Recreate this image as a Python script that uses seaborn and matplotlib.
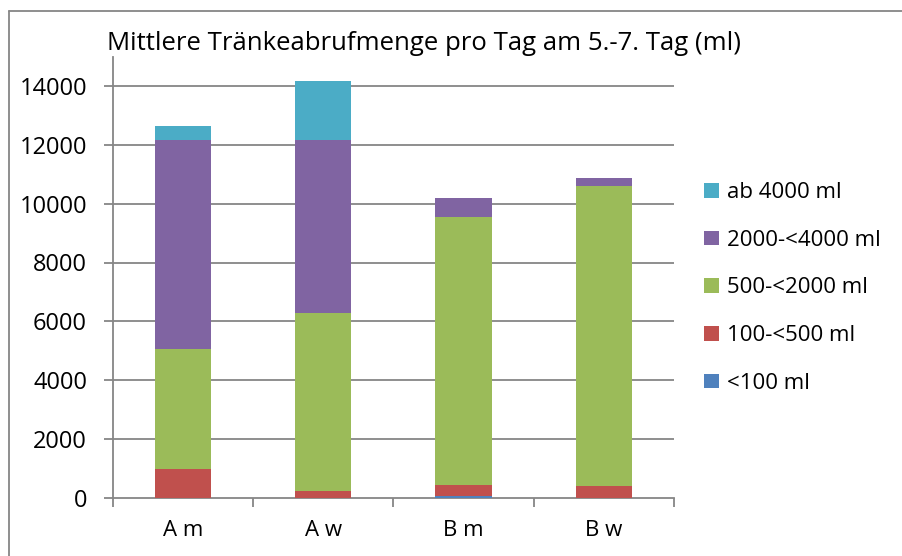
import numpy as np
import pandas as pd
import matplotlib
matplotlib.use("Agg")
import matplotlib.pyplot as plt
from matplotlib.patches import Patch
from matplotlib.lines import Line2D
import seaborn as sns

# data
groups = ["A m", "A w", "B m", "B w"]
series_names = ["<100 ml", "100-<500 ml", "500-<2000 ml", "2000-<4000 ml", "ab 4000 ml"]
lt_100 = [0, 0, 50, 0]
ml_100_500 = [965, 238, 382, 408]
ml_500_2000 = [4090, 6040, 9105, 10200]
ml_2000_4000 = [7125, 5880, 666, 260]
ab_4000 = [475, 2000, 0, 0]
colors = ["#4F81BD", "#C0504D", "#9BBB59", "#8064A2", "#4BACC6"]

df = pd.DataFrame({
    "group": groups,
    series_names[0]: lt_100,
    series_names[1]: ml_100_500,
    series_names[2]: ml_500_2000,
    series_names[3]: ml_2000_4000,
    series_names[4]: ab_4000,
})

sns.set_style("white")
plt.rcParams["font.family"] = ["Open Sans", "DejaVu Sans"]
plt.rcParams["text.color"] = "black"
plt.rcParams["xtick.color"] = "black"
plt.rcParams["ytick.color"] = "black"
grid_col = "#868686"

fig = plt.figure(figsize=(9.03, 5.56), dpi=100)
ax = fig.add_axes([112.7 / 903, 1 - 497.7 / 556, (674 - 112.7) / 903, (497.7 - 56.7) / 556])

# stacked bars, one barplot call per series
bottom = np.zeros(len(groups))
for name, col in zip(series_names, colors):
    sns.barplot(data=df, x="group", y=name, color=col, saturation=1, width=0.4,
                bottom=bottom, ax=ax, linewidth=0, zorder=3)
    bottom = bottom + df[name].values

ax.set_xlim(-0.5, 3.5)
ax.set_ylim(0, 15000)
ax.set_yticks(np.arange(0, 14001, 2000))
ax.set_xlabel("")
ax.set_ylabel("")
for y in np.arange(2000, 14001, 2000):
    ax.axhline(y, color=grid_col, lw=1.3, zorder=1)

for s in ["top", "right"]:
    ax.spines[s].set_visible(False)
for s in ["left", "bottom"]:
    ax.spines[s].set_color(grid_col)
    ax.spines[s].set_linewidth(1.3)

ax.tick_params(axis="y", length=6.5, width=1.3, color=grid_col, pad=12, labelsize=17, left=True)
ax.set_xticks(np.arange(-0.5, 3.6, 1), minor=True)
ax.tick_params(axis="x", which="minor", length=6.5, width=1.3, color=grid_col, bottom=True)
ax.tick_params(axis="x", which="major", length=0, pad=16, labelsize=16)

fig.text(107 / 903, 1 - 43 / 556, "Mittlere Tränkeabrufmenge pro Tag am 5.-7. Tag (ml)",
         fontsize=18.5, va="center", ha="left")

handles = [Patch(facecolor=c, edgecolor="none") for c in colors][::-1]
fig.legend(handles, series_names[::-1], loc="upper left", bbox_to_anchor=(693 / 903, 1 - 171 / 556),
           frameon=False, fontsize=16, handlelength=0.65, handleheight=0.65,
           handletextpad=0.4, labelspacing=1.2, borderpad=0)

# chart area border (top and left visible)
fig.add_artist(Line2D([9.3 / 903, 9.3 / 903], [0, 1 - 10.7 / 556], color=grid_col, lw=1.3))
fig.add_artist(Line2D([9.3 / 903, 1], [1 - 10.7 / 556, 1 - 10.7 / 556], color=grid_col, lw=1.3))

fig.savefig("out.png", dpi=100)
